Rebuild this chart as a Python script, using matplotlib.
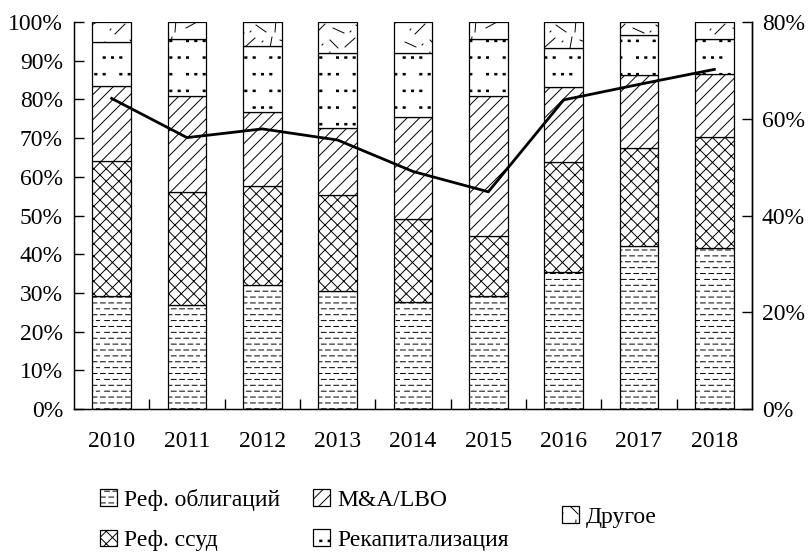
import numpy as np
import matplotlib
matplotlib.use("Agg")
import matplotlib.pyplot as plt
import matplotlib.hatch as mhatch
from matplotlib.path import Path
from matplotlib.patches import Patch

# ---------------- data ----------------
years = ["2010", "2011", "2012", "2013", "2014", "2015", "2016", "2017", "2018"]
bonds = [29.2, 26.8, 32.0, 30.5, 27.7, 29.2, 35.5, 42.0, 41.6]   # Реф. облигаций
loans = [35.0, 29.2, 25.7, 24.9, 21.3, 15.6, 28.2, 25.4, 28.7]   # Реф. ссуд
ma = [19.3, 24.9, 19.0, 17.1, 26.4, 36.1, 19.4, 18.9, 16.2]      # M&A/LBO
recap = [11.3, 14.7, 17.1, 19.4, 16.5, 14.7, 10.1, 10.3, 9.1]    # Рекапитализация
other = [5.2, 4.4, 6.2, 8.1, 8.1, 4.4, 6.8, 3.4, 4.4]            # Другое
line_vals = [64.2, 56.1, 57.9, 55.6, 49.1, 44.9, 63.9, 67.1, 70.2]  # right axis
left_ticks = [0, 10, 20, 30, 40, 50, 60, 70, 80, 90, 100]
right_ticks = [0, 20, 40, 60, 80]
labels = ["Реф. облигаций", "Реф. ссуд", "M&A/LBO", "Рекапитализация", "Другое"]


# ---------------- custom hatch patterns ----------------
class _Segs(mhatch.HatchPatternBase):
    char = None
    segs = []

    def __init__(self, hatch, density):
        self.on = self.char in hatch
        self.num_vertices = len(self.segs) * 2 if self.on else 0

    def set_vertices_and_codes(self, vertices, codes):
        for i, (x0, y0, x1, y1) in enumerate(self.segs):
            vertices[2 * i] = (x0, y0)
            vertices[2 * i + 1] = (x1, y1)
            codes[2 * i] = Path.MOVETO
            codes[2 * i + 1] = Path.LINETO


def _dash_segs():
    s = []
    rows, per = 17, 12
    for r in range(rows):
        y = (r + 0.5) / rows
        off = 0.5 / per if r % 2 else 0.0
        for d in range(per):
            x0 = 0.005 + d / per + off
            x1 = min(x0 + 0.048, 1.0)
            if x0 < 1.0:
                s.append((x0, y, x1, y))
    return s


def _diag_segs(n, ne=True):
    s = []
    for k in range(-n, n + 1):
        a = k / n
        if ne:
            s.append((a, 0.0, a + 1.0, 1.0))
        else:
            s.append((a, 1.0, a + 1.0, 0.0))
    return s


def _dot_segs():
    s = []
    rows, per = 6, 12
    for r in range(rows):
        y = (r + 0.5) / rows
        shift = (r % 2) * 2
        for d in range(per):
            if (d + shift) % 4 == 3:
                continue
            x = (d + 0.5) / per
            for dy in (0.0, 0.008, 0.016):
                s.append((x - 0.01, y + dy, x + 0.01, y + dy))
    return s


_scribble = [
    (0.03, 0.05, 0.12, 0.14), (0.20, 0.03, 0.31, 0.09), (0.40, 0.04, 0.41, 0.15),
    (0.52, 0.12, 0.60, 0.03), (0.70, 0.05, 0.80, 0.11), (0.88, 0.03, 0.90, 0.13),
    (0.06, 0.25, 0.07, 0.26), (0.16, 0.20, 0.24, 0.30), (0.33, 0.28, 0.44, 0.20),
    (0.50, 0.22, 0.51, 0.23), (0.58, 0.18, 0.66, 0.29), (0.76, 0.24, 0.87, 0.19),
    (0.93, 0.20, 0.94, 0.21), (0.02, 0.38, 0.10, 0.46), (0.20, 0.40, 0.21, 0.41),
    (0.27, 0.36, 0.30, 0.48), (0.38, 0.44, 0.50, 0.38), (0.57, 0.37, 0.58, 0.38),
    (0.63, 0.45, 0.74, 0.36), (0.80, 0.38, 0.90, 0.47), (0.95, 0.35, 0.96, 0.36),
    (0.05, 0.58, 0.16, 0.53), (0.22, 0.55, 0.23, 0.56), (0.30, 0.60, 0.38, 0.52),
    (0.45, 0.53, 0.55, 0.62), (0.62, 0.58, 0.63, 0.59), (0.70, 0.52, 0.72, 0.63),
    (0.80, 0.60, 0.92, 0.55), (0.10, 0.70, 0.11, 0.71), (0.15, 0.66, 0.25, 0.76),
    (0.33, 0.72, 0.44, 0.67), (0.50, 0.68, 0.51, 0.69), (0.56, 0.75, 0.66, 0.68),
    (0.75, 0.68, 0.76, 0.80), (0.86, 0.72, 0.97, 0.78), (0.03, 0.85, 0.12, 0.92),
    (0.20, 0.88, 0.21, 0.89), (0.27, 0.82, 0.37, 0.90), (0.45, 0.92, 0.56, 0.85),
    (0.62, 0.86, 0.63, 0.87), (0.69, 0.95, 0.78, 0.86), (0.85, 0.88, 0.86, 0.89),
    (0.90, 0.84, 0.98, 0.95), (0.40, 0.97, 0.41, 0.98),
]


class DashHatch(_Segs):
    char = '-'
    segs = _dash_segs()


class DiagHatch(_Segs):
    char = '/'
    segs = _diag_segs(8, True)


class CrossHatch(_Segs):
    char = 'x'
    segs = _diag_segs(8, True) + _diag_segs(8, False)


class DotHatch(_Segs):
    char = '.'
    segs = _dot_segs()


class ScribbleHatch(_Segs):
    char = '*'
    segs = _scribble


mhatch._hatch_types[:] = [DashHatch, DiagHatch, CrossHatch, DotHatch, ScribbleHatch]
hatches = ['-', 'x', '/', '.', '*']

# ---------------- style ----------------
plt.rcParams['font.family'] = ['Liberation Serif', 'DejaVu Serif']
plt.rcParams['hatch.linewidth'] = 0.7
plt.rcParams['hatch.color'] = 'black'

fig = plt.figure(figsize=(8.09, 5.56), dpi=100)
ax = fig.add_axes([74 / 809, 1 - 409 / 556, (752 - 74) / 809, (409 - 22) / 556])

x = np.arange(len(years))
series = [bonds, loans, ma, recap, other]
bottom = np.zeros(len(years))
for vals, h in zip(series, hatches):
    v = np.array(vals) / 100.0
    ax.bar(x, v, width=0.51, bottom=bottom, color='white', edgecolor='black',
           linewidth=0.9, hatch=h, zorder=2)
    bottom += v

ax.set_xlim(-0.5, len(years) - 0.5)
ax.set_ylim(0, 1.0)
ax.set_yticks([t / 100 for t in left_ticks])
ax.set_yticklabels([f"{t}%" for t in left_ticks])
ax.set_xticks(x)
ax.set_xticklabels(years)
ax.set_xticks(x[:-1] + 0.5, minor=True)
ax.tick_params(axis='x', which='major', length=0, pad=16, labelsize=17)
ax.tick_params(axis='x', which='minor', direction='in', length=7, width=1.0)
ax.tick_params(axis='y', direction='in', length=7, width=1.0, pad=8, labelsize=17)
ax.spines['top'].set_visible(False)
for s in ['left', 'right', 'bottom']:
    ax.spines[s].set_linewidth(1.0)

ax2 = ax.twinx()
ax2.plot(x, np.array(line_vals) / 100.0, color='black', linewidth=2.0, zorder=5)
ax2.set_ylim(0, 0.8)
ax2.set_yticks([t / 100 for t in right_ticks])
ax2.set_yticklabels([f"{t}%" for t in right_ticks])
ax2.tick_params(axis='y', direction='in', length=7, width=1.0, pad=7, labelsize=17)
ax2.spines['top'].set_visible(False)
ax2.spines['right'].set_linewidth(1.0)

handles = [Patch(facecolor='white', edgecolor='black', linewidth=0.9, hatch=h)
           for h in hatches]
leg_kw = dict(loc='center left', frameon=False, fontsize=17, handlelength=0.72,
              handleheight=0.72, handletextpad=0.3, labelspacing=0.8,
              borderpad=0, borderaxespad=0)
groups = [([0, 1], 100), ([2, 3], 313), ([4], 562)]
centers = [520, 520, 517]
for (idx, xpx), ypx in zip(groups, centers):
    fig.legend([handles[i] for i in idx], [labels[i] for i in idx],
               bbox_to_anchor=(xpx / 809, 1 - ypx / 556), **leg_kw)

fig.savefig("out.png", dpi=100)
